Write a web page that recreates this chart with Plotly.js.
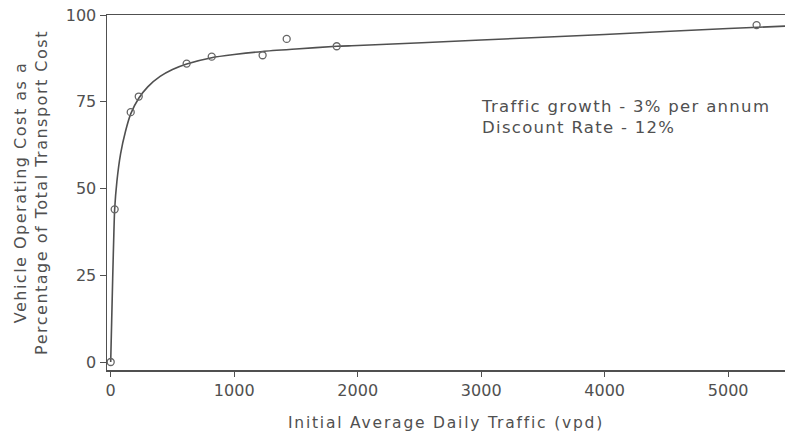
<!DOCTYPE html>
<html>
<head>
<meta charset="utf-8">
<script src="https://cdn.plot.ly/plotly-3.0.1.min.js"></script>
<style>
html,body{margin:0;padding:0;background:#fff;}
#chart{width:785px;height:433px;}
#chart .xtitle{letter-spacing:1.8px;}
#chart .ytitle{letter-spacing:1.5px;}
#chart .annotation-text{letter-spacing:1.3px;}
</style>
</head>
<body>
<div id="chart"></div>
<script>
// Observed data points (open circles)
const trafficPts = [0, 32, 162, 227, 615, 818, 1230, 1425, 1830, 5230];
const vocPctPts  = [0, 44, 72, 76.5, 86, 88, 88.4, 93.1, 91, 97.1];

// Fitted curve
const curveX = [0, 8, 16, 24, 32, 50, 80, 120, 162, 227, 300, 400, 500, 615, 818, 1000, 1230, 1500, 1830, 2000, 3000, 4000, 5000, 5460];
const curveY = [0, 12, 24, 35, 44, 52, 60, 66.5, 71.5, 76, 79.3, 82.3, 84.3, 85.9, 87.7, 88.6, 89.5, 90.2, 91, 91.2, 92.8, 94.4, 96.1, 96.8];

const xTicks = [0, 1000, 2000, 3000, 4000, 5000];
const yTicks = [0, 25, 50, 75, 100];

const ink = '#505050';
const fam = '"DejaVu Sans", Verdana, sans-serif';

const data = [
  {x: curveX, y: curveY, mode: 'lines', type: 'scatter',
   line: {color: ink, width: 1.6, shape: 'spline', smoothing: 0.6}, hoverinfo: 'skip'},
  {x: trafficPts, y: vocPctPts, mode: 'markers', type: 'scatter',
   marker: {symbol: 'circle-open', size: 7, color: '#666', line: {width: 1.3, color: '#666'}}}
];

const layout = {
  width: 785, height: 433,
  margin: {l: 107, r: 0, t: 15, b: 63},
  paper_bgcolor: '#fff', plot_bgcolor: '#fff',
  showlegend: false,
  font: {family: fam, size: 16, color: ink},
  xaxis: {
    range: [-30, 5460], tickvals: xTicks, ticktext: xTicks.map(String),
    showgrid: false, zeroline: false, showline: true, linecolor: ink, linewidth: 1.5,
    mirror: true, ticks: 'outside', ticklen: 5, tickcolor: ink,
    tickfont: {family: fam, size: 16, color: ink},
    title: {text: 'Initial Average Daily Traffic (vpd)', font: {family: fam, size: 15.5, color: ink}, standoff: 18}
  },
  yaxis: {
    range: [-2.3, 100], tickvals: yTicks, ticktext: yTicks.map(String),
    showgrid: false, zeroline: false, showline: true, linecolor: ink, linewidth: 1.5,
    mirror: true, ticks: 'outside', ticklen: 6, tickcolor: ink,
    tickfont: {family: fam, size: 16, color: ink},
    title: {text: 'Vehicle Operating Cost as a<br>Percentage of Total Transport Cost', font: {family: fam, size: 16, color: ink}, standoff: 14}
  },
  annotations: [{
    xref: 'paper', yref: 'paper', x: (479 - 107) / 678, y: (370 - 95) / 355,
    xanchor: 'left', yanchor: 'top', align: 'left', showarrow: false,
    text: 'Traffic growth - 3% per annum<br>Discount Rate - 12%',
    font: {family: fam, size: 16.5, color: ink}
  }]
};

Plotly.newPlot('chart', data, layout, {displayModeBar: false, staticPlot: true});
</script>
</body>
</html>
